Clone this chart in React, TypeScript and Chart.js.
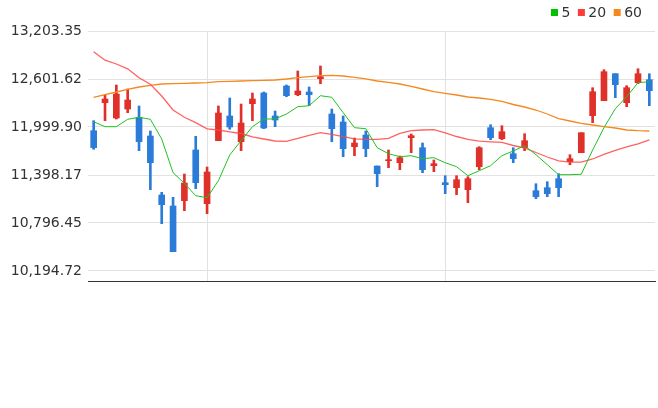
import { useEffect, useRef } from "react"
import { Chart, registerables } from "chart.js"

Chart.register(...registerables)

// Trading days (not shown as labels, only used for the month grid lines)
const dates = [
  "2024-07-18", "2024-07-19", "2024-07-22", "2024-07-23", "2024-07-24", "2024-07-25", "2024-07-26",
  "2024-07-29", "2024-07-30", "2024-07-31",
  "2024-08-01", "2024-08-02", "2024-08-05", "2024-08-06", "2024-08-07", "2024-08-08", "2024-08-09",
  "2024-08-12", "2024-08-13", "2024-08-14", "2024-08-16", "2024-08-19", "2024-08-20", "2024-08-21",
  "2024-08-22", "2024-08-23", "2024-08-26", "2024-08-27", "2024-08-28", "2024-08-29", "2024-08-30",
  "2024-09-02", "2024-09-03", "2024-09-04", "2024-09-05", "2024-09-06", "2024-09-09", "2024-09-10",
  "2024-09-11", "2024-09-12", "2024-09-13", "2024-09-16", "2024-09-17", "2024-09-18", "2024-09-19",
  "2024-09-20", "2024-09-23", "2024-09-24", "2024-09-25", "2024-09-26",
]

const opens = [
  11953.5, 12304.5, 12112.8, 12225.6, 12121.5, 11887.1, 11147.5, 11009.6, 11076.0, 11711.6,
  11038.4, 11828.2, 12137.8, 11815.6, 12292.0, 12426.2, 12137.8, 12513.9, 12404.8, 12438.7,
  12605.4, 12162.9, 12062.6, 11753.0, 11899.6, 11511.0, 11577.4, 11552.4, 11865.8, 11740.4,
  11514.8, 11301.7, 11239.0, 11213.9, 11502.2, 11991.2, 11853.3, 11665.2, 11740.4, 11201.4,
  11239.0, 11351.8, 11564.9, 11677.7, 12141.6, 12329.6, 12668.1, 12304.5, 12555.3, 12592.9,
]
const highs = [
  12078.9, 12401.1, 12526.4, 12476.3, 12263.2, 11949.8, 11181.3, 11118.6, 11410.7, 11883.3,
  11498.5, 12263.2, 12363.5, 12288.3, 12426.2, 12438.7, 12200.5, 12526.4, 12701.9, 12501.4,
  12764.6, 12225.6, 12137.8, 11862.0, 11949.8, 11511.0, 11711.6, 11636.4, 11912.2, 11799.4,
  11586.2, 11389.4, 11389.4, 11376.9, 11753.0, 12028.8, 12016.2, 11740.4, 11915.9, 11289.1,
  11314.2, 11414.5, 11652.7, 11928.5, 12492.6, 12718.2, 12668.1, 12517.7, 12730.8, 12668.1,
]
const lows = [
  11720.4, 12078.9, 12100.2, 12179.2, 11702.8, 11213.9, 10787.7, 10436.7, 10950.6, 11226.5,
  10913.1, 11828.2, 11971.1, 11702.8, 12078.9, 11978.6, 12003.7, 12379.8, 12392.3, 12266.9,
  12542.7, 11815.6, 11627.6, 11640.1, 11627.6, 11251.5, 11489.7, 11464.6, 11677.7, 11427.1,
  11439.6, 11163.8, 11151.2, 11051.0, 11464.6, 11840.7, 11840.7, 11552.4, 11702.8, 11101.1,
  11126.2, 11126.2, 11527.3, 11677.7, 12053.8, 12329.6, 12367.2, 12254.4, 12542.7, 12266.9,
]
const closes = [
  11740.4, 12350.9, 12413.6, 12338.4, 11815.6, 11552.4, 11025.9, 10436.7, 11297.9, 11301.7,
  11435.8, 12175.4, 11999.9, 12050.1, 12350.9, 11987.4, 12087.7, 12392.3, 12451.2, 12404.8,
  12630.5, 11978.6, 11727.9, 11799.4, 11727.9, 11414.5, 11586.2, 11615.1, 11890.8, 11464.6,
  11539.9, 11276.6, 11339.3, 11351.8, 11740.4, 11865.8, 11941.0, 11602.5, 11828.2, 11126.2,
  11163.8, 11239.0, 11602.5, 11928.5, 12442.4, 12693.2, 12530.2, 12492.6, 12668.1, 12455.0,
]

// Moving averages
const ma5 = [
  12066.4, 12003.7, 12003.7, 12096.5, 12121.5, 12096.5, 11849.5, 11427.0, 11294.1, 11138.7,
  11113.6, 11326.7, 11648.9, 11828.2, 12003.7, 12100.2, 12100.2, 12162.9, 12254.4, 12266.9,
  12392.3, 12372.2, 12179.2, 11991.2, 11978.6, 11740.4, 11665.2, 11627.6, 11640.1, 11602.5,
  11615.1, 11552.4, 11502.2, 11389.4, 11452.1, 11514.8, 11640.1, 11699.1, 11765.5, 11652.7,
  11527.3, 11402.0, 11402.0, 11407.0, 11711.6, 11991.2, 12229.3, 12379.8, 12555.3, 12567.8,
]
const ma20 = [
  12943.9, 12837.3, 12789.7, 12729.5, 12616.7, 12535.2, 12388.5, 12213.0, 12121.5, 12053.8,
  11977.4, 11962.3, 11939.8, 11918.4, 11877.1, 11849.5, 11824.4, 11820.7, 11858.3, 11895.9,
  11928.5, 11908.4, 11878.3, 11850.8, 11845.7, 11845.7, 11858.3, 11921.0, 11953.5, 11962.3,
  11966.1, 11924.7, 11880.8, 11845.7, 11821.9, 11814.4, 11808.1, 11768.0, 11736.7, 11680.3,
  11623.8, 11576.2, 11558.7, 11558.7, 11598.8, 11657.7, 11707.8, 11749.2, 11789.3, 11839.5,
]
const ma60 = [
  12372.2, 12404.8, 12438.7, 12472.5, 12501.4, 12522.7, 12539.0, 12542.7, 12547.8, 12551.5,
  12555.3, 12567.8, 12572.8, 12576.6, 12580.3, 12585.4, 12589.1, 12601.7, 12618.0, 12630.5,
  12643.0, 12648.0, 12639.3, 12623.0, 12604.2, 12576.6, 12560.3, 12539.0, 12510.1, 12476.3,
  12442.4, 12422.4, 12401.1, 12376.0, 12363.5, 12347.2, 12322.1, 12282.0, 12250.6, 12213.0,
  12162.9, 12104.0, 12075.1, 12046.3, 12025.0, 12003.7, 11987.4, 11962.3, 11953.5, 11949.8,
]

const yTicks = [10194.72, 10796.45, 11398.17, 11999.9, 12601.62, 13203.35]
const yMin = 10069.36
const yMax = 13203.35

const UP = "#e0302a"
const DOWN = "#2b7bd9"
const FONT = "'DejaVu Sans', sans-serif"

const candleColors = opens.map((o, i) => (closes[i] >= o ? UP : DOWN))

const isMonthStart = (i: number) =>
  i > 0 && i < dates.length && dates[i].slice(5, 7) !== dates[i - 1].slice(5, 7)

// small legend for the moving averages, top right
const maLegend = {
  id: "maLegend",
  afterDraw(chart: any) {
    const ctx = chart.ctx
    const items = chart.data.datasets.filter((d: any) => d.type === "line")
    ctx.save()
    ctx.font = `14px ${FONT}`
    ctx.textBaseline = "middle"
    let x = 642
    for (let i = items.length - 1; i >= 0; i--) {
      const item = items[i]
      x -= ctx.measureText(item.label).width
      ctx.fillStyle = "#333"
      ctx.fillText(item.label, x, 13)
      x -= 3.5 + 7
      ctx.fillStyle = item.legendColor
      ctx.fillRect(x, 9, 7, 7)
      x -= 7.5
    }
    ctx.restore()
  },
}

export default function App() {
  const chartRef = useRef<HTMLCanvasElement>(null)
  const chartInstance = useRef<Chart | null>(null)

  useEffect(() => {
    document.body.style.margin = "0"
    if (!chartRef.current) return
    if (chartInstance.current) chartInstance.current.destroy()

    const ctx = chartRef.current.getContext("2d")
    if (!ctx) return

    chartInstance.current = new Chart(ctx, {
      type: "bar",
      data: {
        labels: dates,
        datasets: [
          {
            type: "line",
            label: "5",
            data: ma5,
            borderColor: "#1fc21f",
            legendColor: "#00c000",
            borderWidth: 1,
            pointRadius: 0,
            tension: 0,
            order: 0,
          } as any,
          {
            type: "line",
            label: "20",
            data: ma20,
            borderColor: "rgba(255, 70, 70, 0.85)",
            legendColor: "#ff3b3b",
            borderWidth: 1.3,
            pointRadius: 0,
            tension: 0,
            order: 0,
          } as any,
          {
            type: "line",
            label: "60",
            data: ma60,
            borderColor: "#f5891f",
            legendColor: "#f5891f",
            borderWidth: 1.3,
            pointRadius: 0,
            tension: 0,
            order: 0,
          } as any,
          {
            type: "bar",
            label: "body",
            data: opens.map((o, i) => [o, closes[i]]),
            backgroundColor: candleColors,
            barThickness: 6,
            minBarLength: 1,
            grouped: false,
            order: 1,
          },
          {
            type: "bar",
            label: "wick",
            data: lows.map((l, i) => [l, highs[i]]),
            backgroundColor: candleColors,
            barThickness: 2,
            grouped: false,
            order: 2,
          },
        ],
      },
      options: {
        responsive: false,
        animation: false,
        layout: { padding: { top: 31, right: 3, bottom: 127, left: 0 } },
        plugins: {
          legend: { display: false },
          tooltip: { enabled: false },
        },
        scales: {
          x: {
            type: "category",
            offset: true,
            ticks: { display: false },
            grid: {
              offset: false,
              drawTicks: false,
              color: (c: any) => (isMonthStart(c.index) ? "#e2e2e2" : "rgba(0,0,0,0)"),
            },
            border: { display: true, color: "#333", width: 1 },
            afterFit: (s: any) => {
              s.height = 0
            },
          },
          y: {
            min: yMin,
            max: yMax,
            afterBuildTicks: (s: any) => {
              s.ticks = yTicks.map((v) => ({ value: v }))
            },
            ticks: {
              padding: 6,
              color: "#333",
              font: { family: FONT, size: 14 },
              callback: (v: any) =>
                Number(v).toLocaleString("en-US", { minimumFractionDigits: 2, maximumFractionDigits: 2 }),
            },
            grid: { color: "#e2e2e2", drawTicks: false },
            border: { display: false },
            afterFit: (s: any) => {
              s.width = 88
            },
          },
        },
      },
      plugins: [maLegend],
    })

    return () => {
      if (chartInstance.current) {
        chartInstance.current.destroy()
        chartInstance.current = null
      }
    }
  }, [])

  return (
    <div style={{ width: 658, height: 408 }}>
      <canvas ref={chartRef} width={658} height={408} />
    </div>
  )
}
